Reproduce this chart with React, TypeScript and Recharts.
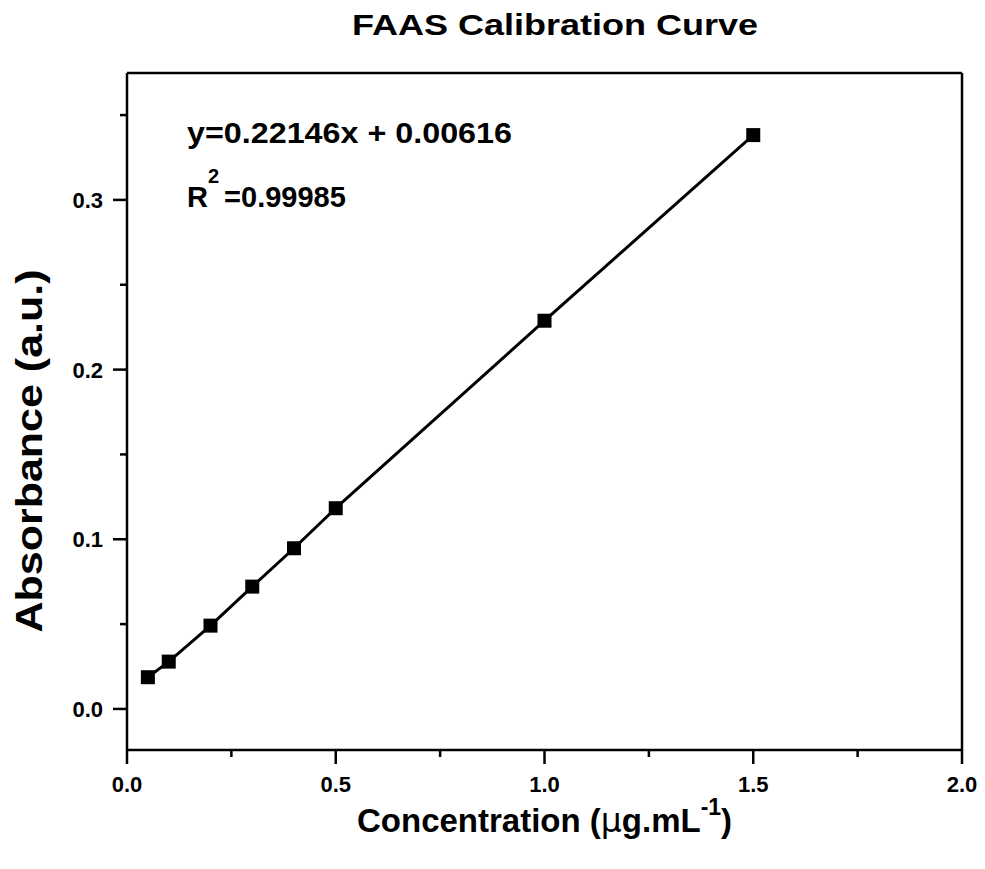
import React from 'react';
import { ComposedChart, Line, XAxis, YAxis, ReferenceLine } from 'recharts';

const concentration = [0.05, 0.1, 0.2, 0.3, 0.4, 0.5, 1.0, 1.5];
const absorbance = [0.0187, 0.0279, 0.0491, 0.0721, 0.0947, 0.1183, 0.2288, 0.3382];

const xTicks = [0, 0.25, 0.5, 0.75, 1.0, 1.25, 1.5, 1.75, 2.0];
const xMajor = ['0.0', '0.5', '1.0', '1.5', '2.0'];
const yTicks = [0, 0.05, 0.1, 0.15, 0.2, 0.25, 0.3, 0.35];
const yMajor = ['0.0', '0.1', '0.2', '0.3'];

const xDomain = [0, 2];
const yDomain = [-0.0242, 0.3748];

const data = concentration.map((c, i) => ({ c, a: absorbance[i] }));

const FONT = '"Liberation Sans", Arial, Helvetica, sans-serif';

const XTick = (props: any) => {
  const { x, y, payload } = props;
  const label = payload.value.toFixed(1);
  const major = xMajor.includes(label) && Math.abs(payload.value * 2 - Math.round(payload.value * 2)) < 1e-6;
  return (
    <g>
      <line x1={x} x2={x} y1={y} y2={y + (major ? 14 : 7)} stroke="#000" strokeWidth={2.5} />
      {major && (
        <text x={x} y={y + 42} textAnchor="middle" fontFamily={FONT} fontWeight="bold" fontSize={22} fill="#000">
          {label}
        </text>
      )}
    </g>
  );
};

const YTick = (props: any) => {
  const { x, y, payload } = props;
  const label = payload.value.toFixed(1);
  const major = yMajor.includes(label) && Math.abs(payload.value * 10 - Math.round(payload.value * 10)) < 1e-6;
  return (
    <g>
      <line x1={x} x2={x - (major ? 14 : 7)} y1={y} y2={y} stroke="#000" strokeWidth={2.5} />
      {major && (
        <text x={x - 24} y={y + 8} textAnchor="end" fontFamily={FONT} fontWeight="bold" fontSize={22} fill="#000">
          {label}
        </text>
      )}
    </g>
  );
};

const SquareDot = (p: any) => (
  <rect key={p.index} x={p.cx - 7} y={p.cy - 7} width={14} height={14} fill="#000" />
);

export default function App() {
  return (
    <div style={{ position: 'absolute', left: 0, top: 0, width: 985, height: 869, background: '#fff' }}>
      <ComposedChart width={985} height={869} data={data} margin={{ top: 73, right: 23, bottom: 89, left: 67 }}>
        <XAxis
          dataKey="c"
          type="number"
          domain={xDomain}
          ticks={xTicks}
          interval={0}
          allowDataOverflow
          height={30}
          tickSize={0}
          tickMargin={0}
          tickLine={false}
          tick={<XTick />}
          axisLine={{ stroke: '#000', strokeWidth: 2.5 }}
        />
        <YAxis
          type="number"
          domain={yDomain}
          ticks={yTicks}
          interval={0}
          allowDataOverflow
          width={60}
          tickSize={0}
          tickMargin={0}
          tickLine={false}
          tick={<YTick />}
          axisLine={{ stroke: '#000', strokeWidth: 2.5 }}
        />
        <ReferenceLine y={yDomain[1]} stroke="#000" strokeWidth={2.5} />
        <ReferenceLine x={xDomain[1]} stroke="#000" strokeWidth={2.5} />
        <Line
          dataKey="a"
          type="linear"
          stroke="#000"
          strokeWidth={3}
          dot={SquareDot}
          activeDot={false}
          isAnimationActive={false}
        />
      </ComposedChart>
      <svg width={985} height={869} style={{ position: 'absolute', left: 0, top: 0, pointerEvents: 'none' }}>
        <text x={555} y={35} textAnchor="middle" fontFamily={FONT} fontWeight="bold" fontSize={30} textLength={406} lengthAdjust="spacingAndGlyphs" fill="#000">
          FAAS Calibration Curve
        </text>
        <text x={187} y={143} fontFamily={FONT} fontWeight="bold" fontSize={29} textLength={325} lengthAdjust="spacingAndGlyphs" fill="#000">
          y=0.22146x + 0.00616
        </text>
        <text x={187} y={207} fontFamily={FONT} fontWeight="bold" fontSize={29} fill="#000">
          R
          <tspan fontSize={20} dy={-24}>2</tspan>
          <tspan dx={5} dy={24}>=0.99985</tspan>
        </text>
        <text transform="translate(42,451) rotate(-90)" textAnchor="middle" fontFamily={FONT} fontWeight="bold" fontSize={36} textLength={363} lengthAdjust="spacingAndGlyphs" fill="#000">
          Absorbance (a.u.)
        </text>
        <text x={357} y={832} fontFamily={FONT} fontWeight="bold" fontSize={33} fill="#000">
          Concentration (
          <tspan fontFamily='"DejaVu Sans", sans-serif' fontWeight="normal">μ</tspan>
          g.mL
          <tspan fontSize={23} dy={-17}>-1</tspan>
          <tspan dy={17}>)</tspan>
        </text>
      </svg>
    </div>
  );
}
